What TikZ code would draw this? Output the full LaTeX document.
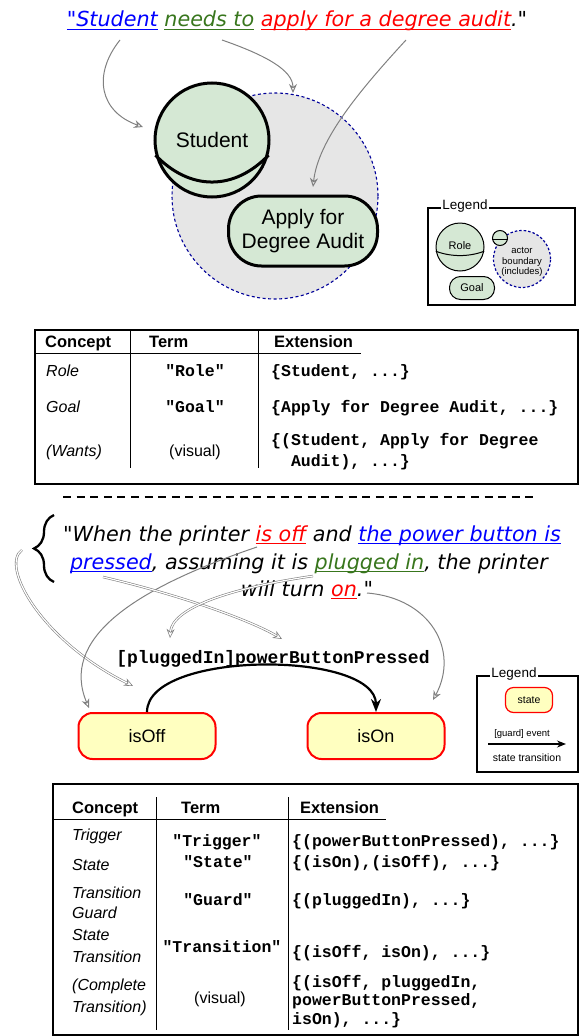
\documentclass[tikz,border=0pt]{standalone}
\usepackage{fontspec}
\setmainfont{Liberation Sans}
\setmonofont{Liberation Mono}
\newfontfamily\comic{DejaVu Sans}
\usetikzlibrary{arrows.meta,decorations.pathreplacing,calc}
\definecolor{ublue}{HTML}{0000FF}
\definecolor{ugreen}{HTML}{38761D}
\definecolor{ured}{HTML}{FF0000}
\definecolor{agray}{HTML}{808080}
\definecolor{gfill}{HTML}{D5E8D4}
\definecolor{bfill}{HTML}{E6E6E6}
\definecolor{bnavy}{HTML}{000099}
\definecolor{yfill}{HTML}{FFFFC0}
\newcommand\ulx[1]{\setbox0\hbox{#1}\rlap{\rule[-3pt]{\wd0}{1.4pt}}\box0}
\tikzset{
  garrow/.style={draw=agray, line width=1pt, -{Stealth[open, length=9pt, width=8pt]}},
  gdouble/.style={draw=agray, line width=0.6pt, double=white, double distance=1.2pt, -{Stealth[open, length=9pt, width=8pt]}},
  rolec/.style={circle, draw, fill=gfill, inner sep=0pt},
  quote/.style={anchor=base, inner sep=0pt, font=\comic\itshape\fontsize{20.7}{24}\selectfont},
  conc/.style={anchor=base west, inner sep=0pt, font=\itshape\fontsize{16}{18}\selectfont},
  hdr/.style={anchor=base west, inner sep=0pt, font=\bfseries\fontsize{16.5}{18}\selectfont},
  term/.style={anchor=base, inner sep=0pt, font=\ttfamily\bfseries\fontsize{16.5}{18}\selectfont},
  ext/.style={anchor=base west, inner sep=0pt, font=\ttfamily\bfseries\fontsize{16.5}{18}\selectfont},
  lgd/.style={fill=white, inner sep=1pt, font=\fontsize{13.5}{15}\selectfont},
  tline/.style={line width=1pt},
  statebox/.style={rectangle, rounded corners=14pt, draw=ured, line width=2pt, fill=yfill, minimum width=137, minimum height=46, font=\fontsize{18}{20}\selectfont},
}
\begin{document}
\begin{tikzpicture}[x=1pt,y=-1pt]
\useasboundingbox (0,0) rectangle (579,1036);

% ---------- top sentence ----------
\node[quote] (title) at (297,27) {\textcolor{ublue}{\ulx{"Student}} \textcolor{ugreen}{\ulx{needs to}} \textcolor{ured}{\ulx{apply for a degree audit}}."};

% actor boundary, role, goal
\node[circle, minimum size=206, draw=bnavy, line width=1.1pt, dash pattern=on 3pt off 2.5pt, fill=bfill] (bound) at (275,196) {};
\node[rolec, line width=3pt, minimum size=114, font=\fontsize{21}{24}\selectfont] (stud) at (212,140) {Student};
\draw[line width=3pt] (stud.195) .. controls ($(stud.center)+(-22,51)$) and ($(stud.center)+(22,51)$) .. (stud.-15);
\node[rectangle, rounded corners=33pt, minimum width=149, minimum height=70, draw, line width=3pt, fill=gfill, align=center, font=\fontsize{21}{24}\selectfont] (goal) at (303,231) {Apply for\\Degree Audit};

% arrows from the sentence
\coordinate (a1s) at (120,40); \coordinate (a1e) at (143,127);
\coordinate (a2s) at (222,40); \coordinate (a2e) at (293,93);
\coordinate (a3s) at (406,40); \coordinate (a3e) at (313,187);
\draw[garrow] (a1s) .. controls (92,75) and (100,112) .. (a1e);
\draw[garrow] (a2s) .. controls (265,55) and (293,70) .. (a2e);
\draw[garrow] (a3s) .. controls (360,90) and (318,140) .. (a3e);

% legend 1
\draw[line width=1.2pt] (428,208) rectangle (575,305);
\node[lgd] (lg1) at (465,206) {Legend};
\node[rolec, line width=1pt, minimum size=48] (lrole) at (460,247) {};
\draw[line width=1pt] (lrole.190) .. controls ($(lrole.center)+(-9,10)$) and ($(lrole.center)+(9,10)$) .. (lrole.-10);
\node[inner sep=0pt, font=\fontsize{11}{13}\selectfont] (lrolet) at (460,246) {Role};
\node[circle, minimum size=57, draw=bnavy, line width=1.2pt, dash pattern=on 2.5pt off 2pt, fill=bfill, inner sep=0pt] (lbound) at (522,259) {};
\node[rolec, line width=1pt, minimum size=15] (licon) at (500,238) {};
\draw[line width=1pt] (licon.188) -- (licon.-8);
\node[inner sep=0pt, align=center, font=\fontsize{9.5}{10.5}\selectfont] (lboundt) at (522,262) {actor\\boundary\\(includes)};
\node[rectangle, rounded corners=11pt, minimum width=45, minimum height=23, draw, line width=1pt, fill=gfill, font=\fontsize{11}{13}\selectfont] (lgoal) at (472,288) {Goal};

% ---------- table 1 ----------
\draw[line width=1.2pt] (35,330) rectangle (578,484);
\draw[tline] (35,353) -- (361,353);
\draw[tline] (130,330) -- (130,468);
\draw[tline] (258,330) -- (258,468);
\node[hdr] (h1c) at (45,347) {Concept};
\node[hdr] (h1t) at (149,347) {Term};
\node[hdr] (h1e) at (274,347) {Extension};
\node[conc] (r1c) at (46,376) {Role};
\node[term] (r1t) at (195,376) {"Role"};
\node[ext] (r1e) at (271,376) {\{Student, ...\}};
\node[conc] (r2c) at (46,412) {Goal};
\node[term] (r2t) at (195,412) {"Goal"};
\node[ext] (r2e) at (271,412) {\{Apply for Degree Audit, ...\}};
\node[conc] (r3c) at (46,456) {(Wants)};
\node[anchor=base, inner sep=0pt, font=\fontsize{16}{18}\selectfont] (r3t) at (195,456) {(visual)};
\node[ext] (r3e) at (271,445) {\{(Student, Apply for Degree};
\node[ext] (r3f) at (271,466) {\ \ Audit), ...\}};

% separator
\coordinate (sepl) at (63,497); \coordinate (sepr) at (537,497);
\draw[line width=2pt, dash pattern=on 8pt off 5.6pt] (sepl) -- (sepr);

% ---------- printer sentence ----------
\draw[line width=2.3pt, decorate, decoration={brace, amplitude=20pt, aspect=0.5}] (54,582) -- (54,515);
\node[quote] (l1) at (312,541) {"When the printer \textcolor{ured}{\ulx{is off}} and \textcolor{ublue}{\ulx{the power button is}}};
\node[quote] (l2) at (309,569) {\textcolor{ublue}{\ulx{pressed}}, assuming it is \textcolor{ugreen}{\ulx{plugged in}}, the printer};
\node[quote] (l3) at (307,596) {will turn \textcolor{ured}{\ulx{on}}."};

% states
\node[statebox] (off) at (147,736) {isOff};
\node[statebox] (on) at (376,736) {isOn};
\draw[line width=2.2pt, -{Stealth[length=13pt, width=10pt]}] (off.north) .. controls ($(off.north)+(0,-62)$) and ($(on.north)+(0,-62)$) .. (on.north);
\node[inner sep=0pt, font=\ttfamily\bfseries\fontsize{18}{20}\selectfont] (trl) at (273,659) {[pluggedIn]powerButtonPressed};

% arrows from the printer sentence
\coordinate (bAs) at (22,550); \coordinate (bAe) at (133,686);
\coordinate (bBs) at (257,547); \coordinate (bBe) at (89,708);
\coordinate (bCs) at (103,577); \coordinate (bCe) at (282,639);
\coordinate (bDs) at (313,576); \coordinate (bDe) at (170,638);
\coordinate (bEs) at (367,593); \coordinate (bEe) at (433,700);
\draw[gdouble] (bAs) .. controls (0,565) and (40,640) .. (bAe);
\draw[garrow] (bBs) .. controls (130,590) and (60,640) .. (bBe);
\draw[gdouble] (bCs) .. controls (180,595) and (250,620) .. (bCe);
\draw[gdouble] (bDs) .. controls (230,588) and (172,608) .. (bDe);
\draw[garrow] (bEs) .. controls (430,598) and (460,650) .. (bEe);

% legend 2
\draw[line width=1.2pt] (477,676) rectangle (578,772);
\node[lgd] (lg2) at (514,674) {Legend};
\node[rectangle, rounded corners=8pt, minimum width=47, minimum height=25, draw=ured, line width=1.2pt, fill=yfill, font=\fontsize{10.5}{12}\selectfont] (lstate) at (529,700) {state};
\node[inner sep=0pt, font=\fontsize{9.5}{11}\selectfont] (lguard) at (522,734) {[guard] event};
\coordinate (lts) at (488,744); \coordinate (lte) at (566,744);
\draw[line width=1.3pt, -{Stealth[length=9pt, width=7pt]}] (lts) -- (lte);
\node[inner sep=0pt, font=\fontsize{10.5}{12}\selectfont] (ltrans) at (527,758) {state transition};

% ---------- table 2 ----------
\draw[line width=1.2pt] (53,784) rectangle (578,1035);
\draw[tline] (53,819) -- (386,819);
\draw[tline] (156,797) -- (156,1030);
\draw[tline] (288,797) -- (288,1030);
\node[hdr] (h2c) at (72,813) {Concept};
\node[hdr] (h2t) at (181,813) {Term};
\node[hdr] (h2e) at (300,813) {Extension};
\node[conc] (s1c) at (72,840) {Trigger};
\node[term] (s1t) at (217,846) {"Trigger"};
\node[ext] (s1e) at (292,846) {\{(powerButtonPressed), ...\}};
\node[conc] (s2c) at (72,870) {State};
\node[term] (s2t) at (218,867) {"State"};
\node[ext] (s2e) at (292,867) {\{(isOn),(isOff), ...\}};
\node[conc] (s3c) at (72,898) {Transition};
\node[conc] (s3d) at (72,918) {Guard};
\node[term] (s3t) at (218,905) {"Guard"};
\node[ext] (s3e) at (292,905) {\{(pluggedIn), ...\}};
\node[conc] (s4c) at (72,940) {State};
\node[conc] (s4d) at (72,962) {Transition};
\node[term] (s4t) at (222,952) {"Transition"};
\node[ext] (s4e) at (292,957) {\{(isOff, isOn), ...\}};
\node[conc] (s5c) at (72,990) {(Complete};
\node[conc] (s5d) at (72,1012) {Transition)};
\node[anchor=base, inner sep=0pt, font=\fontsize{16}{18}\selectfont] (s5t) at (220,1003) {(visual)};
\node[ext] (s5e) at (292,987) {\{(isOff, pluggedIn,};
\node[ext] (s5f) at (292,1005) {powerButtonPressed,};
\node[ext] (s5g) at (292,1024) {isOn), ...\}};
\end{tikzpicture}
\end{document}
